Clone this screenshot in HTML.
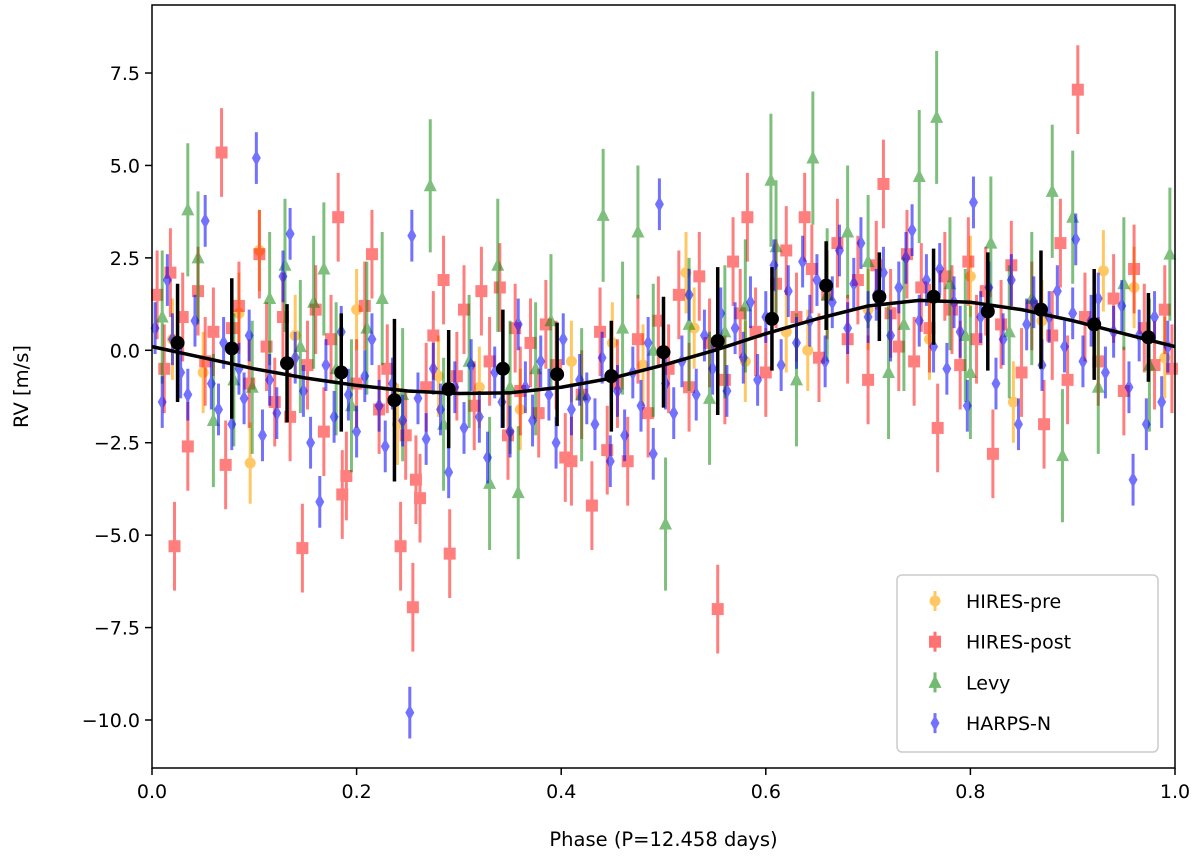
<!DOCTYPE html>
<html><head><meta charset="utf-8"><style>
body{margin:0;background:#fff;}
svg{font-family:"DejaVu Sans","Liberation Sans",sans-serif;}
</style></head><body>
<svg id="chart" width="1200" height="863" viewBox="0 0 1200 863" xmlns="http://www.w3.org/2000/svg">
<g id="marks"></g>
<g id="axes"></g>
</svg>
<script>
const xTicks=[0,0.2,0.4,0.6,0.8,1.0];
const xTickLabels=["0.0","0.2","0.4","0.6","0.8","1.0"];
const yTicks=[7.5,5,2.5,0,-2.5,-5,-7.5,-10];
const yTickLabels=["7.5","5.0","2.5","0.0","\u22122.5","\u22125.0","\u22127.5","\u221210.0"];
const modelPhase=[0,0.05,0.1,0.15,0.2,0.25,0.3,0.35,0.4,0.45,0.5,0.55,0.6,0.65,0.7,0.75,0.8,0.85,0.9,0.95,1.0];
const modelRV=[0.1,-0.2,-0.5,-0.75,-0.95,-1.1,-1.17,-1.15,-1.0,-0.75,-0.4,0.0,0.45,0.85,1.2,1.35,1.3,1.1,0.8,0.45,0.1];
const binPhase=[0.025,0.078,0.132,0.185,0.237,0.29,0.343,0.396,0.449,0.5,0.553,0.606,0.659,0.711,0.764,0.817,0.869,0.921,0.974];
const binRV=[0.2,0.05,-0.35,-0.6,-1.35,-1.05,-0.5,-0.65,-0.7,-0.05,0.25,0.85,1.75,1.45,1.45,1.05,1.1,0.7,0.35];
const binErr=[1.6,1.9,1.6,1.6,2.2,1.6,1.6,1.4,1.5,1.5,2.0,1.4,1.2,1.2,1.3,1.6,1.6,1.5,1.2];
const prePhase=[0.02,0.05,0.085,0.096,0.105,0.14,0.2,0.24,0.28,0.32,0.36,0.41,0.45,0.48,0.522,0.53,0.58,0.62,0.641,0.7,0.76,0.8,0.842,0.87,0.93,0.96,0.99];
const preRV=[0.3,-0.6,1.0,-3.05,2.7,0.4,1.1,-2.0,-0.7,-1.0,-1.6,-0.3,0.2,-0.4,2.1,0.6,-0.3,0.5,0.0,1.1,0.3,2.0,-1.4,0.8,2.15,1.7,-0.2];
const postPhase=[0.005,0.012,0.018,0.022,0.03,0.035,0.045,0.052,0.06,0.068,0.072,0.078,0.085,0.095,0.105,0.112,0.12,0.128,0.135,0.147,0.152,0.16,0.168,0.175,0.182,0.186,0.19,0.2,0.208,0.215,0.222,0.23,0.243,0.248,0.255,0.258,0.262,0.268,0.275,0.285,0.291,0.298,0.305,0.315,0.322,0.33,0.34,0.348,0.355,0.36,0.37,0.378,0.385,0.395,0.404,0.41,0.42,0.43,0.438,0.445,0.455,0.465,0.475,0.485,0.495,0.505,0.515,0.525,0.535,0.545,0.553,0.56,0.568,0.575,0.582,0.59,0.6,0.61,0.62,0.63,0.638,0.645,0.652,0.66,0.67,0.68,0.69,0.7,0.708,0.715,0.722,0.73,0.738,0.745,0.752,0.76,0.768,0.775,0.782,0.79,0.798,0.806,0.815,0.822,0.83,0.84,0.85,0.86,0.872,0.88,0.888,0.895,0.905,0.912,0.925,0.94,0.95,0.96,0.97,0.98,0.99,0.997];
const postRV=[1.5,-0.5,2.1,-5.3,0.9,-2.6,1.6,-0.3,0.5,5.35,-3.1,0.6,1.2,-0.9,2.6,0.1,-1.4,0.9,-1.8,-5.35,-0.4,1.1,-2.2,0.3,3.6,-3.9,-3.4,-0.9,1.2,2.6,-1.6,-0.5,-5.3,-2.3,-6.95,-3.5,-4.0,-1.0,0.4,1.9,-5.5,-0.7,1.1,-1.5,1.6,-0.3,1.7,-2.3,0.6,-1.1,0.2,-1.7,0.7,-0.4,-2.9,-3.0,-1.2,-4.2,0.5,-2.7,-0.9,-3.0,0.3,-1.7,0.8,-0.5,1.5,-1.0,2.0,0.2,-7.0,-0.8,2.4,1.0,3.6,0.5,-0.6,1.8,2.7,0.9,3.6,2.2,-0.2,1.5,2.9,0.3,1.9,-0.8,2.3,4.5,1.0,0.1,2.6,-0.3,1.7,0.6,-2.1,2.0,1.1,-0.4,2.4,0.3,1.6,-2.8,0.7,2.3,-0.6,1.2,-2.0,0.4,2.9,-0.8,7.05,0.9,-0.3,1.4,-1.1,2.2,0.6,-0.4,1.1,-0.5];
const levyPhase=[0.01,0.035,0.045,0.06,0.08,0.098,0.115,0.13,0.145,0.158,0.168,0.18,0.195,0.21,0.225,0.245,0.272,0.285,0.31,0.33,0.338,0.35,0.358,0.375,0.39,0.42,0.441,0.46,0.475,0.49,0.502,0.525,0.545,0.56,0.58,0.605,0.61,0.63,0.646,0.66,0.68,0.7,0.72,0.735,0.75,0.767,0.78,0.795,0.8,0.82,0.838,0.86,0.88,0.89,0.9,0.925,0.95,0.975,0.995];
const levyRV=[0.9,3.8,2.5,-1.9,-0.8,-1.0,1.4,2.3,0.1,1.3,2.2,-0.5,-1.5,0.6,1.4,-1.2,4.45,-2.0,-0.3,-3.6,2.3,-1.0,-3.85,-0.5,0.8,-1.2,3.65,0.6,3.2,0.0,-4.7,0.7,-1.3,0.5,1.2,4.6,2.8,-0.8,5.2,1.5,3.2,2.4,-0.6,0.7,4.7,6.3,1.8,0.4,-0.6,2.9,0.5,1.4,4.3,-2.85,3.6,-1.0,1.8,-0.4,2.6];
const harpsPhase=[0.003,0.01,0.015,0.02,0.028,0.035,0.042,0.052,0.058,0.065,0.07,0.078,0.085,0.09,0.095,0.102,0.108,0.115,0.122,0.128,0.135,0.14,0.148,0.155,0.164,0.17,0.178,0.185,0.192,0.2,0.208,0.215,0.222,0.228,0.235,0.245,0.252,0.254,0.26,0.268,0.275,0.282,0.29,0.296,0.305,0.312,0.32,0.328,0.335,0.342,0.35,0.358,0.365,0.372,0.38,0.388,0.395,0.402,0.41,0.418,0.425,0.433,0.44,0.448,0.455,0.462,0.47,0.478,0.485,0.49,0.496,0.502,0.51,0.518,0.525,0.532,0.54,0.548,0.556,0.562,0.57,0.578,0.585,0.592,0.6,0.608,0.615,0.622,0.63,0.636,0.643,0.65,0.658,0.665,0.672,0.68,0.686,0.693,0.7,0.708,0.715,0.722,0.73,0.737,0.743,0.75,0.757,0.764,0.77,0.777,0.784,0.79,0.797,0.803,0.81,0.818,0.825,0.832,0.84,0.847,0.855,0.862,0.87,0.877,0.885,0.892,0.9,0.903,0.91,0.918,0.925,0.932,0.94,0.948,0.955,0.959,0.965,0.972,0.98,0.987,0.993];
const harpsRV=[0.6,-1.4,1.9,0.3,-0.6,-1.2,0.8,3.5,-0.9,-1.6,0.2,-2.0,-0.5,-1.3,0.4,5.2,-2.3,-0.8,-1.7,2.0,3.15,-0.2,-1.1,-2.5,-4.1,-0.4,-1.8,0.5,-1.2,-2.2,-0.7,0.3,-1.5,-2.6,-0.9,-1.9,-9.8,3.1,-1.3,-2.4,-0.5,-1.6,-3.3,-1.0,-2.1,-0.4,-1.8,-2.9,-0.6,-1.4,-2.2,0.7,-1.0,-1.9,-0.3,-1.2,-2.5,0.3,-1.6,-0.8,-1.3,-2.0,-0.2,-3.0,-1.1,-2.3,-0.6,-1.5,0.2,-2.8,3.95,-0.9,-1.7,-0.3,1.5,-1.2,0.4,-0.5,1.0,-1.1,0.6,-0.2,1.3,-0.8,0.9,2.3,-0.4,1.6,0.2,2.4,0.8,1.9,-0.3,1.3,2.7,0.6,1.8,2.9,0.9,1.5,2.1,0.4,1.7,2.5,3.25,0.8,1.9,0.1,2.2,-0.5,1.3,0.5,-1.5,4.0,0.9,1.7,-0.9,0.3,1.9,-2.0,0.7,1.3,-0.4,0.9,1.6,0.1,1.0,3.0,-0.3,0.8,1.4,-0.6,0.5,1.2,-1.0,-3.5,0.4,-2.0,0.9,-1.4,0.1];

const NS="http://www.w3.org/2000/svg";
const X0=152,X1=1175,Y0=5,Y1=768;
const xs=p=>X0+p*(X1-X0);
const ys=v=>350.3-v*36.97;
const marks=document.getElementById('marks');
const axes=document.getElementById('axes');
function mk(tag,attrs,parent){const e=document.createElementNS(NS,tag);for(const k in attrs)e.setAttribute(k,attrs[k]);(parent||marks).appendChild(e);return e;}

function shapeAt(s,x,y,c,g){
  if(s==='circle')return mk('circle',{cx:x,cy:y,r:5.5,fill:c},g);
  if(s==='square')return mk('rect',{x:x-6,y:y-6,width:12,height:12,fill:c},g);
  if(s==='tri')return mk('polygon',{points:`${x},${y-7.5} ${x-6.5},${y+5.5} ${x+6.5},${y+5.5}`,fill:c},g);
  return mk('polygon',{points:`${x},${y-8} ${x+4.5},${y} ${x},${y+8} ${x-4.5},${y}`,fill:c},g);
}
function series(ph,rv,err,color,alpha,shape,name){
  const g=mk('g',{opacity:alpha});
  
  
  for(let i=0;i<ph.length;i++){
    const x=xs(ph[i]),y=ys(rv[i]);
    const l=mk('line',{x1:x,x2:x,y1:ys(rv[i]+err),y2:ys(rv[i]-err),stroke:color,'stroke-width':3},g);
    
    
    const m=shapeAt(shape,x,y,color,g);
    
    
  }
}
series(prePhase,preRV,1.1,'#FFA500',0.6,'circle','hires-pre');
series(postPhase,postRV,1.2,'#FF0000',0.5,'square','hires-post');
series(levyPhase,levyRV,1.8,'#008000',0.5,'tri','levy');
series(harpsPhase,harpsRV,0.7,'#0000FF',0.55,'diamond','harps-n');

let d='';
for(let i=0;i<modelPhase.length;i++)d+=(i?'L':'M')+xs(modelPhase[i])+','+ys(modelRV[i]);
const model=mk('path',{d:d,fill:'none',stroke:'#000','stroke-width':3.5,'stroke-linejoin':'round'});


for(let i=0;i<binPhase.length;i++){
  const x=xs(binPhase[i]);
  const l=mk('line',{x1:x,x2:x,y1:ys(binRV[i]+binErr[i]),y2:ys(binRV[i]-binErr[i]),stroke:'#000','stroke-width':3.5});
  
  
  const c=mk('circle',{cx:x,cy:ys(binRV[i]),r:7,fill:'#000'});
  
  
}

const fr=mk('rect',{x:X0,y:Y0,width:X1-X0,height:Y1-Y0,fill:'none',stroke:'#000','stroke-width':1.5},axes);


for(let i=0;i<xTicks.length;i++){
  const x=xs(xTicks[i]);
  mk('line',{x1:x,x2:x,y1:Y1,y2:Y1+7,stroke:'#000','stroke-width':1.5},axes);
  const t=mk('text',{x:x,y:Y1+30,'text-anchor':'middle','font-size':19,fill:'#000'},axes);
  t.textContent=xTickLabels[i];
  
  
}
for(let i=0;i<yTicks.length;i++){
  const y=ys(yTicks[i]);
  mk('line',{x1:X0-7,x2:X0,y1:y,y2:y,stroke:'#000','stroke-width':1.5},axes);
  const t=mk('text',{x:X0-12,y:y+7,'text-anchor':'end','font-size':19,fill:'#000'},axes);
  t.textContent=yTickLabels[i];
  
  
}
const xl=mk('text',{x:(X0+X1)/2,y:846,'text-anchor':'middle','font-size':19.5,fill:'#000'},axes);
xl.textContent='Phase (P=12.458 days)';


const yl=mk('text',{x:0,y:0,'text-anchor':'middle','font-size':19.5,fill:'#000',transform:`translate(28,${(Y0+Y1)/2}) rotate(-90)`},axes);
yl.textContent='RV [m/s]';



const lg=mk('g',{},axes);


mk('rect',{x:897,y:575,width:261,height:177,rx:5,fill:'#fff','fill-opacity':0.85,stroke:'#ccc','stroke-width':1.5},lg);
const legNames=['HIRES-pre','HIRES-post','Levy','HARPS-N'];
const legColors=['#FFA500','#FF0000','#008000','#0000FF'];
const legShapes=['circle','square','tri','diamond'];
for(let i=0;i<4;i++){
  const y=601+i*40.7,x=935,c=legColors[i];
  const e=mk('g',{opacity:i==0?0.6:0.55},lg);
  
  
  mk('line',{x1:x,x2:x,y1:y-10,y2:y+10,stroke:c,'stroke-width':3},e);
  shapeAt(legShapes[i],x,y,c,e);
  const t=mk('text',{x:966,y:y+7,'font-size':19,fill:'#000'},lg);
  t.textContent=legNames[i];
  
  
}
</script>
</body></html>
